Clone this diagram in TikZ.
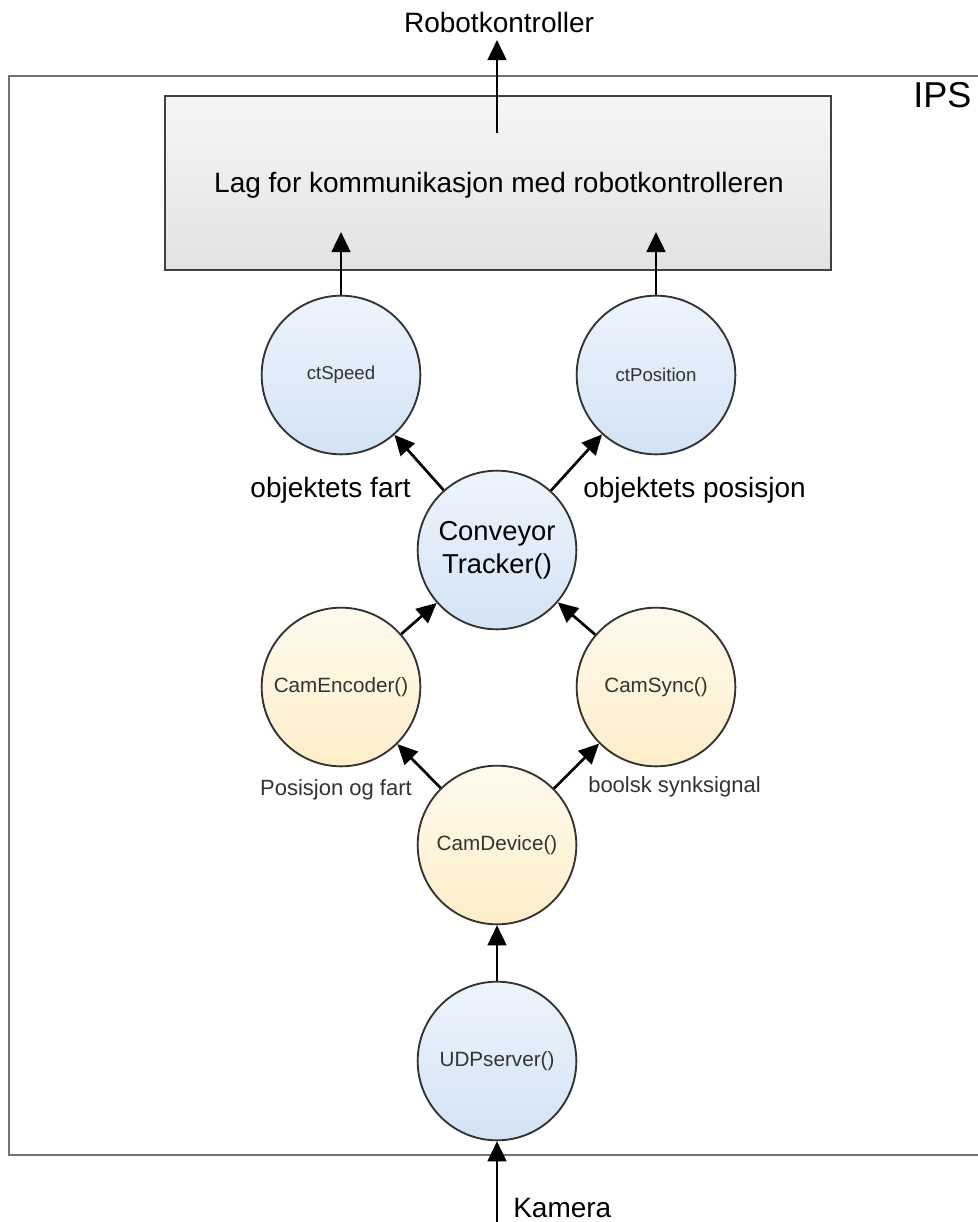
\documentclass[tikz,border=0pt]{standalone}
\usepackage{fontspec}
\setmainfont{Liberation Sans}
\usetikzlibrary{arrows.meta}

\definecolor{procblue}{HTML}{D3E3F5}
\definecolor{procblueT}{HTML}{EDF4FC}
\definecolor{procyel}{HTML}{FDEEC8}
\definecolor{procyelT}{HTML}{FFFAEE}
\definecolor{layergray}{HTML}{E2E2E2}
\definecolor{layergrayT}{HTML}{F6F6F6}

\tikzset{
  proc/.style={circle,draw=black!80,line width=1.4pt,minimum size=119pt,inner sep=0pt,
    text=black!80,font=\fontsize{15.5}{18}\selectfont},
  blueproc/.style={proc,top color=procblueT,bottom color=procblue},
  yelproc/.style={proc,top color=procyelT,bottom color=procyel},
  flow/.style={line width=2pt,-{Triangle[length=15pt,width=14pt]}},
  lbl/.style={inner sep=0pt,font=\fontsize{21}{25}\selectfont},
  smalllbl/.style={inner sep=0pt,text=black!80,font=\fontsize{16.5}{19}\selectfont}
}

\begin{document}
\begin{tikzpicture}[x=0.75pt,y=-0.75pt]
\useasboundingbox (0,0) rectangle (978,1222);
\clip (0,0) rectangle (978,1222);

% IPS frame (runs out on the right)
\draw[black!55,line width=1.5pt] (9,76) rectangle (1000,1155);
\node[anchor=base west,inner sep=0pt,font=\fontsize{27}{30}\selectfont] (ips) at (913,107) {IPS};

% communication layer
\node[draw=black!75,line width=1.5pt,top color=layergrayT,bottom color=layergray,
  minimum width=499pt,minimum height=130pt] (comm) at (498,183) {};
\node[lbl,anchor=base] (commtxt) at (499,192) {Lag for kommunikasjon med robotkontrolleren};
\node[lbl,anchor=base] (robot) at (499,32) {Robotkontroller};
\coordinate (commout) at (497,133);
\coordinate (robotin) at (497,40);
\coordinate (commin1) at (341,232);
\coordinate (commin2) at (656,232);

% processes
\node[blueproc] (speed) at (341,375) {\fontsize{14}{16}\selectfont ctSpeed};
\node[blueproc] (pos) at (656,375) {\fontsize{14}{16}\selectfont ctPosition};
\node[blueproc,align=center,text=black,font=\fontsize{20.5}{25}\selectfont] (tracker) at (497,550) {Conveyor\\Tracker()};
\node[yelproc] (encoder) at (341,687) {CamEncoder()};
\node[yelproc] (sync) at (656,687) {CamSync()};
\node[yelproc] (device) at (497,845) {CamDevice()};
\node[blueproc] (udp) at (497,1061) {UDPserver()};
\coordinate (cam) at (497,1230);

% data flow
\draw[flow] (cam) -- (udp);
\draw[flow] (udp) -- (device);
\draw[flow] (device) -- (encoder);
\draw[flow] (device) -- (sync);
\draw[flow] (encoder) -- (tracker);
\draw[flow] (sync) -- (tracker);
\draw[flow] (tracker) -- (speed);
\draw[flow] (tracker) -- (pos);
\draw[flow] (speed) -- (commin1);
\draw[flow] (pos) -- (commin2);
\draw[flow] (commout) -- (robotin);

% labels
\node[lbl,anchor=base east] (fart) at (411,497) {objektets fart};
\node[lbl,anchor=base west] (posisjon) at (583,497) {objektets posisjon};
\node[smalllbl,anchor=base east] (posfart) at (412,795) {Posisjon og fart};
\node[smalllbl,anchor=base west] (synk) at (588,792) {boolsk synksignal};
\node[lbl,anchor=base west] (kamera) at (513,1217) {Kamera};
\end{tikzpicture}
\end{document}
